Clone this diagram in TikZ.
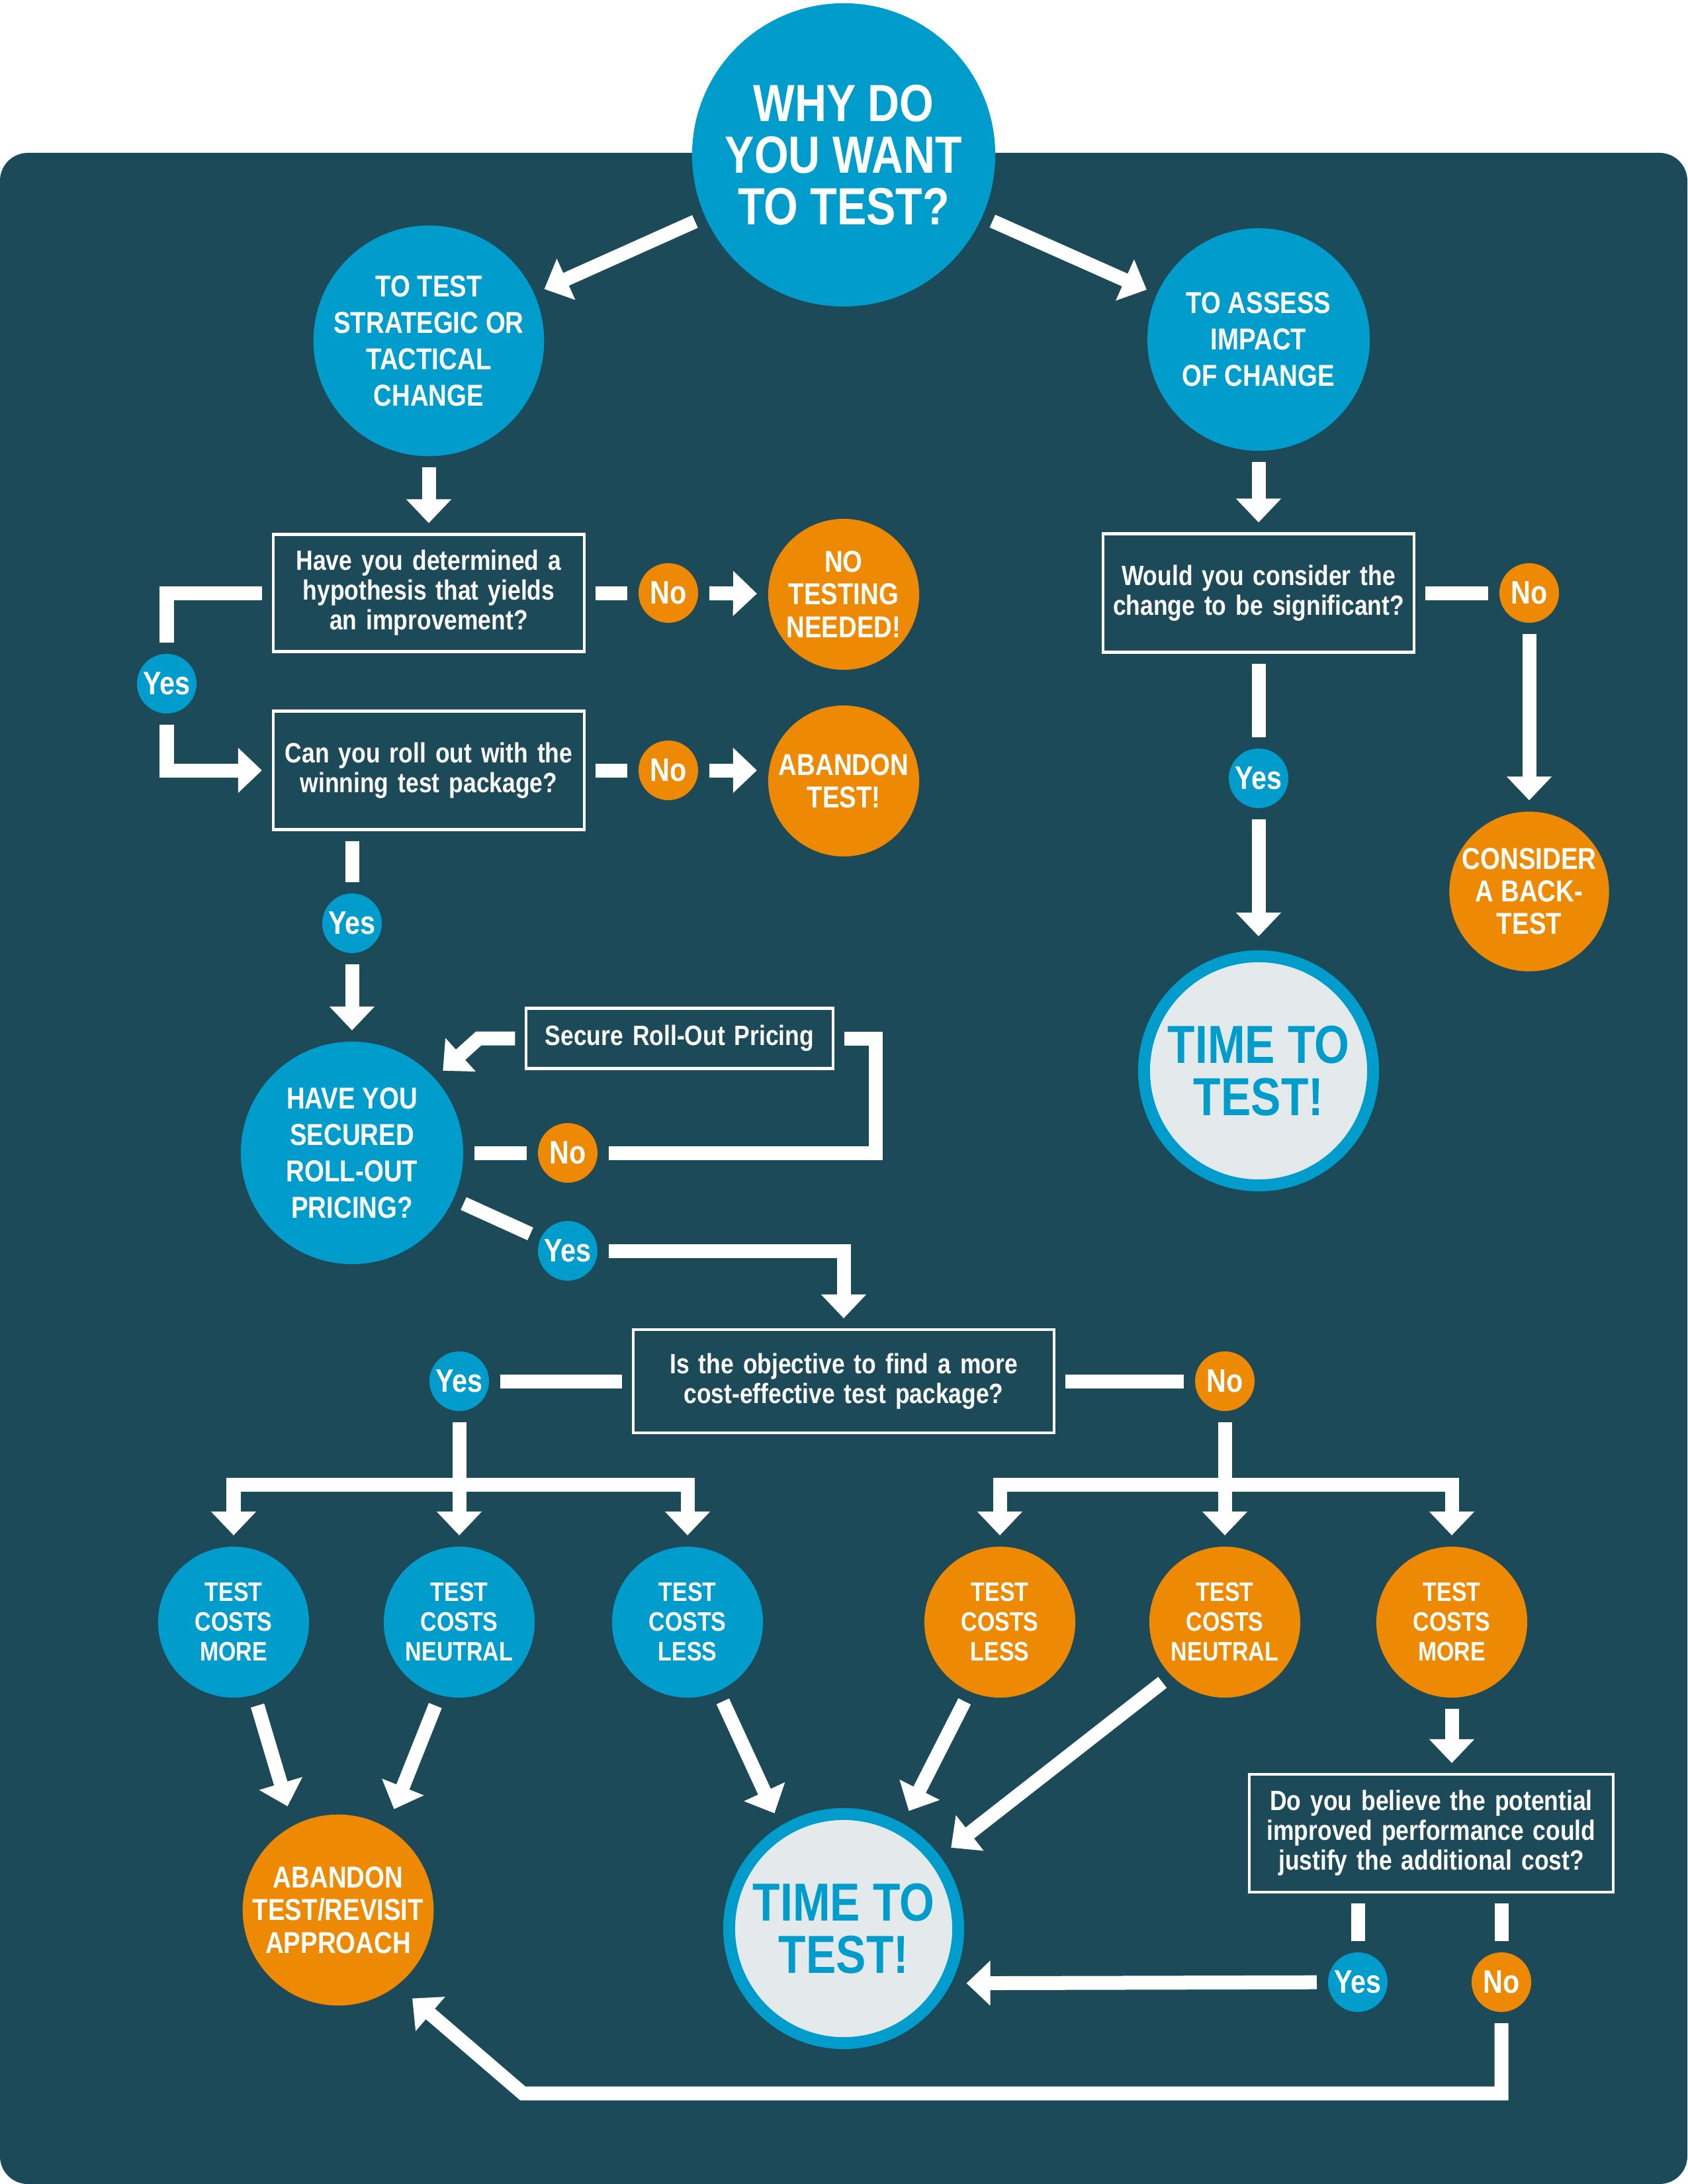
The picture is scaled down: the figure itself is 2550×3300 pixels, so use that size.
\documentclass[tikz,border=0pt]{standalone}
\usepackage{fontspec}
\setmainfont[FakeStretch=0.84]{Liberation Sans}
\usepackage{tikz}
\usetikzlibrary{arrows.meta,positioning,calc}
\definecolor{flowblue}{RGB}{0,157,204}
\definecolor{floworange}{RGB}{238,137,3}
\definecolor{flowteal}{RGB}{28,74,88}
\definecolor{flowgrey}{RGB}{228,233,235}

\begin{document}
\begin{tikzpicture}[x=0.01cm, y=-0.01cm, font=\bfseries,
    every node/.style={text=white, align=center, inner sep=0pt},
    bigcircle/.style={circle, fill=flowblue, minimum size=4.58cm, outer sep=0.17cm, font=\bfseries\fontsize{22.5}{22.2}\selectfont},
    midcircle/.style={circle, fill=#1, minimum size=3.36cm, outer sep=0.17cm, font=\bfseries\fontsize{13}{15.6}\selectfont},
    endcircle/.style={circle, fill=#1, minimum size=2.28cm, outer sep=0.17cm, font=\bfseries\fontsize{13}{14}\selectfont},
    costcircle/.style={circle, fill=#1, minimum size=2.28cm, outer sep=0.17cm, font=\bfseries\fontsize{11.5}{12.8}\selectfont},
    answer/.style={circle, fill=#1, minimum size=0.9cm, outer sep=0.17cm, font=\bfseries\fontsize{14}{14}\selectfont},
    question/.style={draw=white, line width=1.2pt, inner sep=0.15cm, minimum height=#1, outer sep=0.17cm, font=\bfseries\fontsize{12}{12.8}\selectfont},
    timecircle/.style={circle, fill=flowgrey, draw=flowblue, line width=0.18cm, minimum size=3.46cm, outer sep=0.3cm, text=flowblue, font=\bfseries\fontsize{23}{22.5}\selectfont},
    link/.style={white, line width=0.21cm},
    flow/.style={link, -{Triangle[width=0.66cm, length=0.36cm]}}]

    \useasboundingbox (0,0) rectangle (2550,3300);
    \fill[flowteal, rounded corners=0.42cm] (0,231) rectangle (2550,3300);

    \node[bigcircle] (why) at (1275,234) {WHY DO\\YOU WANT\\TO TEST?};
    \node[midcircle=flowblue] (strategic) at (648,515) {TO TEST\\STRATEGIC OR\\TACTICAL\\CHANGE};
    \node[midcircle=flowblue] (assess) at (1902,513) {TO ASSESS\\IMPACT\\OF CHANGE};

    \node[question=1.77cm, text width=4.4cm] (hypothesis) at (648,896) {Have you determined a\\hypothesis that yields\\an improvement?};
    \node[answer=floworange] (nohyp) at (1010,896) {No};
    \node[endcircle=floworange] (notest) at (1275,898) {NO\\TESTING\\NEEDED!};
    \node[answer=flowblue] (yeshyp) at (252,1033) {Yes};
    \node[question=1.79cm, text width=4.4cm] (rollout) at (648,1164) {Can you roll out with the\\winning test package?};
    \node[answer=floworange] (norollout) at (1010,1164) {No};
    \node[endcircle=floworange] (abandon) at (1275,1180) {ABANDON\\TEST!};
    \node[answer=flowblue] (yesrollout) at (532,1395) {Yes};

    \node[midcircle=flowblue] (pricing) at (532,1742) {HAVE YOU\\SECURED\\ROLL-OUT\\PRICING?};
    \node[question=0.91cm, text width=4.33cm] (secure) at (1027,1569) {Secure Roll-Out Pricing};
    \node[answer=floworange] (nopricing) at (858,1742) {No};
    \node[answer=flowblue] (yespricing) at (858,1890) {Yes};
    \coordinate (loop) at (1323,1569);

    \node[question=1.56cm, text width=6.06cm] (objective) at (1275,2087) {Is the objective to find a more\\cost-effective test package?};
    \node[answer=flowblue] (yesobj) at (694,2087) {Yes};
    \node[answer=floworange] (noobj) at (1851,2087) {No};
    \coordinate (yesbar) at (694,2243);
    \coordinate (nobar) at (1851,2243);

    \node[costcircle=flowblue] (bluemore) at (353,2451) {TEST\\COSTS\\MORE};
    \node[costcircle=flowblue] (blueneutral) at (694,2451) {TEST\\COSTS\\NEUTRAL};
    \node[costcircle=flowblue] (blueless) at (1039,2451) {TEST\\COSTS\\LESS};
    \node[costcircle=floworange] (orangeless) at (1511,2451) {TEST\\COSTS\\LESS};
    \node[costcircle=floworange] (orangeneutral) at (1851,2451) {TEST\\COSTS\\NEUTRAL};
    \node[costcircle=floworange] (orangemore) at (2194,2451) {TEST\\COSTS\\MORE};

    \node[endcircle=floworange, minimum size=2.82cm, outer sep=0.3cm] (revisit) at (511,2886) {ABANDON\\TEST/REVISIT\\APPROACH};
    \node[timecircle] (timeleft) at (1275,2914) {TIME TO\\TEST!};
    \node[question=1.78cm, text width=5.2cm] (justify) at (2163,2770) {Do you believe the potential\\improved performance could\\justify the additional cost?};
    \node[answer=flowblue] (yesjustify) at (2052,2995) {Yes};
    \node[answer=floworange] (nojustify) at (2269,2995) {No};
    \coordinate (corner) at (790,3163);

    \node[question=1.79cm, text width=4.4cm] (significant) at (1902,896) {Would you consider the\\change to be significant?};
    \node[answer=floworange] (nosig) at (2311,896) {No};
    \node[endcircle=floworange] (backtest) at (2311,1347) {CONSIDER\\A BACK-\\TEST};
    \node[answer=flowblue] (yessig) at (1902,1176) {Yes};
    \node[timecircle] (timeright) at (1902,1618) {TIME TO\\TEST!};

    \draw[flow] (why) -- (strategic);
    \draw[flow] (why) -- (assess);
    \draw[flow] (strategic) -- (hypothesis);
    \draw[link] (hypothesis) -- (nohyp);
    \draw[flow] (nohyp) -- (notest);
    \draw[link] (hypothesis.west) -| (yeshyp);
    \draw[flow] (yeshyp) |- (rollout.west);
    \draw[link] (rollout) -- (norollout);
    \draw[flow] (norollout) -- (norollout -| abandon.west);
    \draw[link] (yesrollout |- rollout.south) -- (yesrollout);
    \draw[flow] (yesrollout) -- (pricing);

    \draw[flow] (secure.west) -- ++(-55,0) -- (pricing);
    \draw[link] (pricing) -- (nopricing);
    \draw[link] (nopricing) -| (loop) -- (secure);
    \draw[link] (pricing) -- (yespricing);
    \draw[flow] (yespricing) -| (objective);

    \draw[link] (objective) -- (yesobj);
    \draw[link] (objective) -- (noobj);
    \draw[link] (yesobj) -- (yesbar);
    \draw[flow] (yesbar) -| (bluemore);
    \draw[flow] (yesbar) -- (blueneutral);
    \draw[flow] (yesbar) -| (blueless);
    \draw[link] (noobj) -- (nobar);
    \draw[flow] (nobar) -| (orangeless);
    \draw[flow] (nobar) -- (orangeneutral);
    \draw[flow] (nobar) -| (orangemore);

    \draw[flow] (bluemore.286) -- (revisit.116);
    \draw[flow] (blueneutral.254) -- (revisit.61);
    \draw[flow] (blueless.294) -- (timeleft.121);
    \draw[flow] (orangeless.246) -- (timeleft.61);
    \draw[flow] (orangeneutral.224) -- (timeleft.37);
    \draw[flow] (orangemore) -- (orangemore |- justify.north);
    \draw[link] (yesjustify |- justify.south) -- (yesjustify);
    \draw[link] (nojustify |- justify.south) -- (nojustify);
    \draw[flow] (yesjustify) -- (timeleft.-24);
    \draw[flow] (nojustify) |- (corner) -- (revisit.-50);

    \draw[flow] (assess) -- (significant);
    \draw[link] (significant) -- (nosig);
    \draw[flow] (nosig) -- (backtest);
    \draw[link] (significant) -- (yessig);
    \draw[flow] (yessig) -- (timeright);
\end{tikzpicture}
\end{document}
